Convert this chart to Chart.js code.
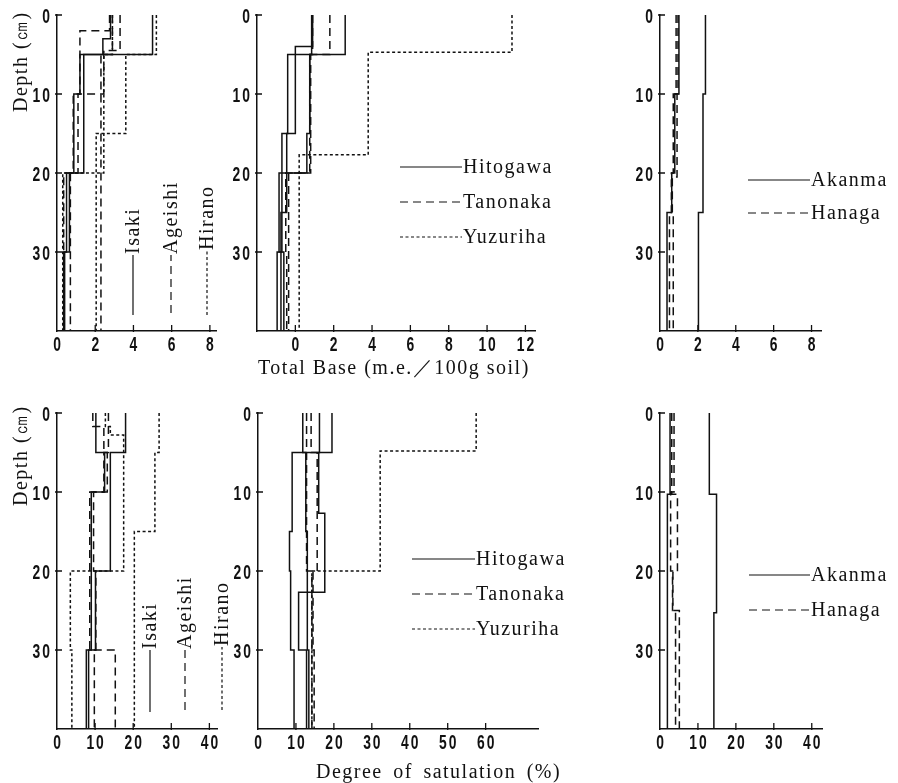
<!DOCTYPE html>
<html>
<head>
<meta charset="utf-8">
<script src="https://cdn.jsdelivr.net/npm/chart.js@4.4.0/dist/chart.umd.min.js"></script>
<style>
  body { margin: 0; background: #fff; width: 898px; height: 783px; position: relative; overflow: hidden; }
  canvas { position: absolute; }
  .title { position: absolute; font-family: 'Liberation Serif', 'DejaVu Serif', serif; font-size: 20px;
           letter-spacing: 1.5px; color: #111; white-space: nowrap; line-height: 24px; }
  .depth { transform-origin: left top; transform: rotate(-90deg); }
</style>
</head>
<body>
<canvas id="tbLeft"></canvas>
<canvas id="tbMid"></canvas>
<canvas id="tbRight"></canvas>
<canvas id="dsLeft"></canvas>
<canvas id="dsMid"></canvas>
<canvas id="dsRight"></canvas>
<div class="title depth" style="left:8px; top:112px;">Depth (㎝)</div>
<div class="title depth" style="left:8px; top:506px;">Depth (㎝)</div>
<div class="title" style="left:258px; top:355px;">Total Base (m.e.／100g soil)</div>
<div class="title" style="left:316px; top:759px; word-spacing:4px;">Degree of satulation (%)</div>
<script>
// tick labels
const depthTicks = [0, 10, 20, 30];
const tbSideTicks = [0, 2, 4, 6, 8];
const tbMidTicks = [0, 2, 4, 6, 8, 10, 12];
const dsSideTicks = [0, 10, 20, 30, 40];
const dsMidTicks = [0, 10, 20, 30, 40, 50, 60];

// Total Base (m.e./100g soil): horizon boundaries (cm) and value per horizon
const tbIsakiADepth = [0, 5, 20, 30, 40];
const tbIsakiA = [5.0, 1.4, 0.65, 0.4];
const tbIsakiBDepth = [0, 3, 5, 10, 20, 30, 40];
const tbIsakiB = [2.8, 2.4, 1.2, 0.88, 0.5, 0.35];
const tbAgeishiADepth = [0, 2, 10, 20, 40];
const tbAgeishiA = [2.75, 1.2, 0.85, 0.35];
const tbAgeishiBDepth = [0, 4.5, 10, 20, 40];
const tbAgeishiB = [3.3, 2.45, 1.1, 0.7];
const tbAgeishiCDepth = [0, 5, 40];
const tbAgeishiC = [2.9, 2.3];
const tbHiranoADepth = [0, 5, 15, 40];
const tbHiranoA = [5.2, 3.6, 2.05];
const tbHiranoBDepth = [0, 5, 20, 40];
const tbHiranoB = [2.9, 2.45, 0.3];

const tbHitogawaADepth = [0, 5, 15, 30, 40];
const tbHitogawaA = [2.6, -0.4, -0.7, -0.95];
const tbHitogawaBDepth = [0, 4, 15, 25, 40];
const tbHitogawaB = [0.9, 0.0, -0.45, -0.75];
const tbHitogawaCDepth = [0, 5, 15, 20, 30, 40];
const tbHitogawaC = [0.85, 0.75, 0.6, -0.85, -0.6];
const tbTanonakaADepth = [0, 5, 20, 30, 40];
const tbTanonakaA = [1.8, 0.75, -0.5, -0.45];
const tbTanonakaBDepth = [0, 5, 20, 40];
const tbTanonakaB = [0.9, 0.8, -0.35];
const tbYuzurihaDepth = [0, 4.7, 17.7, 40];
const tbYuzuriha = [11.3, 3.8, 0.2];

const tbAkanmaADepth = [0, 10, 25, 40];
const tbAkanmaA = [2.4, 2.27, 2.03];
const tbAkanmaBDepth = [0, 10, 20, 25, 40];
const tbAkanmaB = [1.0, 0.78, 0.62, 0.37];
const tbHanagaADepth = [0, 10, 20.5, 25, 40];
const tbHanagaA = [0.95, 0.9, 0.65, 0.7];
const tbHanagaBDepth = [0, 10, 20, 25, 40];
const tbHanagaB = [0.85, 0.7, 0.6, 0.5];

// Degree of saturation (%)
const dsIsakiADepth = [0, 5, 20, 30, 40];
const dsIsakiA = [18.0, 14.0, 10.1, 7.7];
const dsIsakiBDepth = [0, 5, 10, 30, 40];
const dsIsakiB = [10.2, 12.5, 9.0, 8.3];
const dsAgeishiADepth = [0, 1.7, 5, 10, 30, 40];
const dsAgeishiA = [9.4, 12.3, 13.2, 8.6, 15.3];
const dsAgeishiBDepth = [0, 5, 10, 20, 30, 40];
const dsAgeishiB = [13.5, 12.3, 9.6, 10.2, 9.8];
const dsHiranoADepth = [0, 5, 15, 40];
const dsHiranoA = [26.8, 25.7, 20.3];
const dsHiranoBDepth = [0, 1.7, 2.8, 20, 30, 40];
const dsHiranoB = [12.7, 14.0, 17.5, 3.5, 3.9];

const dsHitogawaADepth = [0, 5, 15, 20, 30, 40];
const dsHitogawaA = [19.5, 9.0, 8.3, 8.6, 9.5];
const dsHitogawaBDepth = [0, 5, 12.7, 22.7, 30, 40];
const dsHitogawaB = [16.2, 16.0, 17.6, 10.7, 12.8];
const dsHitogawaCDepth = [0, 5, 15, 30, 40];
const dsHitogawaC = [11.8, 12.6, 13.0, 13.4];
const dsTanonakaADepth = [0, 5, 20, 30, 40];
const dsTanonakaA = [14.0, 15.6, 14.5, 14.8];
const dsTanonakaBDepth = [0, 20, 40];
const dsTanonakaB = [12.8, 14.2];
const dsYuzurihaDepth = [0, 4.8, 20, 40];
const dsYuzuriha = [57.5, 32.2, 14.2];

const dsAkanmaADepth = [0, 10.3, 25.3, 40];
const dsAkanmaA = [13.0, 14.9, 14.2];
const dsAkanmaBDepth = [0, 10.3, 40];
const dsAkanmaB = [2.65, 1.95];
const dsHanagaADepth = [0, 10.3, 20.2, 25, 40];
const dsHanagaA = [3.1, 4.6, 3.4, 5.1];
const dsHanagaBDepth = [0, 10, 20, 25, 40];
const dsHanagaB = [3.7, 2.8, 3.3, 4.1];

const SOLID = [];
const DASHED = [8, 5];
const DOTTED = [3, 2.5];
const INK = '#111';
const tickFontCss = "bold 21px 'Liberation Sans', Arimo, 'DejaVu Sans', sans-serif";
const serif = "20px 'Liberation Serif', 'DejaVu Serif', serif";

// step profile: vertical run for each horizon, joined at the boundaries
function profile(depths, values, dash) {
  const pts = [];
  values.forEach((v, i) => {
    pts.push({ x: v, y: depths[i] });
    pts.push({ x: v, y: depths[i + 1] });
  });
  return {
    data: pts,
    showLine: true,
    borderColor: INK,
    borderWidth: 1.5,
    borderDash: dash,
    pointRadius: 0,
    fill: false,
    tension: 0
  };
}

// condensed bold tick labels and short tick marks pointing into the plot
const axisMarks = {
  id: 'axisMarks',
  afterDraw(chart) {
    const { ctx, chartArea, scales } = chart;
    ctx.save();
    ctx.strokeStyle = INK;
    ctx.lineWidth = 1.3;
    ctx.setLineDash([]);
    ctx.beginPath();
    scales.y.ticks.forEach(t => {
      const y = scales.y.getPixelForValue(t.value);
      ctx.moveTo(chartArea.left - 2, y);
      ctx.lineTo(chartArea.left + 5, y);
    });
    scales.x.ticks.forEach(t => {
      if (t.value === scales.x.min) return;
      const x = scales.x.getPixelForValue(t.value);
      ctx.moveTo(x, chartArea.bottom + 1);
      ctx.lineTo(x, chartArea.bottom - 6);
    });
    ctx.stroke();

    ctx.font = tickFontCss;
    ctx.letterSpacing = '3px';
    ctx.fillStyle = INK;
    ctx.textBaseline = 'alphabetic';
    scales.y.ticks.forEach(t => {
      const y = scales.y.getPixelForValue(t.value);
      ctx.save();
      ctx.translate(chartArea.left - 5, y + 7.5);
      ctx.scale(0.66, 1);
      ctx.textAlign = 'right';
      ctx.fillText(String(t.value), 0, 0);
      ctx.restore();
    });
    scales.x.ticks.forEach(t => {
      const x = scales.x.getPixelForValue(t.value);
      ctx.save();
      ctx.translate(x + 1, chartArea.bottom + 20);
      ctx.scale(0.66, 1);
      ctx.textAlign = 'center';
      ctx.fillText(String(t.value), 0, 0);
      ctx.restore();
    });
    ctx.restore();
  }
};

// line-sample legends, horizontal or rotated
const profileLegend = {
  id: 'profileLegend',
  afterDraw(chart, args, opts) {
    const ctx = chart.ctx;
    const offX = chart.canvas.offsetLeft, offY = chart.canvas.offsetTop;
    (opts.items || []).forEach(it => {
      ctx.save();
      ctx.translate(it.x - offX, it.y - offY);
      if (it.vertical) ctx.rotate(-Math.PI / 2);
      ctx.strokeStyle = INK;
      ctx.lineWidth = 1.2;
      ctx.setLineDash(it.dash);
      ctx.beginPath();
      ctx.moveTo(0, 0);
      ctx.lineTo(it.len, 0);
      ctx.stroke();
      ctx.font = serif;
      ctx.letterSpacing = '1.5px';
      ctx.fillStyle = INK;
      ctx.textBaseline = 'middle';
      ctx.fillText(it.label, it.len + 1, 1);
      ctx.restore();
    });
  }
};

function makePanel(id, box, xMin, xMax, xTicks, datasets, legendItems) {
  const canvas = document.getElementById(id);
  const padRight = box.padRight;
  const w = 50 + (box.right - box.axisX) + padRight;
  const h = 12 + (box.bottom - box.top) + 32;
  canvas.width = w;
  canvas.height = h;
  canvas.style.left = (box.axisX - 50) + 'px';
  canvas.style.top = (box.top - 12) + 'px';
  canvas.style.width = w + 'px';
  canvas.style.height = h + 'px';

  return new Chart(canvas.getContext('2d'), {
    type: 'scatter',
    data: { datasets },
    options: {
      responsive: false,
      animation: false,
      layout: { padding: { top: 12, right: padRight, left: 0, bottom: 0 } },
      plugins: {
        legend: { display: false },
        tooltip: { enabled: false },
        profileLegend: { items: legendItems }
      },
      scales: {
        x: {
          type: 'linear',
          min: xMin,
          max: xMax,
          afterBuildTicks: s => { s.ticks = xTicks.map(v => ({ value: v })); },
          afterFit: s => { s.height = 32; },
          grid: { display: false },
          border: { color: INK, width: 1.5 },
          ticks: { display: false }
        },
        y: {
          type: 'linear',
          reverse: true,
          min: 0,
          max: 40,
          afterBuildTicks: s => { s.ticks = depthTicks.map(v => ({ value: v })); },
          afterFit: s => { s.width = 50; },
          grid: { display: false },
          border: { color: INK, width: 1.5 },
          ticks: { display: false }
        }
      }
    },
    plugins: [axisMarks, profileLegend]
  });
}

makePanel('tbLeft', { axisX: 57, right: 216, top: 15, bottom: 331, padRight: 16 }, 0, 8.32, tbSideTicks, [
  profile(tbIsakiADepth, tbIsakiA, SOLID),
  profile(tbIsakiBDepth, tbIsakiB, SOLID),
  profile(tbAgeishiADepth, tbAgeishiA, DASHED),
  profile(tbAgeishiBDepth, tbAgeishiB, DASHED),
  profile(tbAgeishiCDepth, tbAgeishiC, DASHED),
  profile(tbHiranoADepth, tbHiranoA, DOTTED),
  profile(tbHiranoBDepth, tbHiranoB, DOTTED)
], [
  { label: 'Isaki', dash: SOLID, x: 133, y: 315, len: 60, vertical: true },
  { label: 'Ageishi', dash: DASHED, x: 171, y: 313, len: 58, vertical: true },
  { label: 'Hirano', dash: DOTTED, x: 207, y: 315, len: 64, vertical: true }
]);

makePanel('tbMid', { axisX: 257, right: 535, top: 15, bottom: 331, padRight: 20 }, -2, 12.5, tbMidTicks, [
  profile(tbHitogawaADepth, tbHitogawaA, SOLID),
  profile(tbHitogawaBDepth, tbHitogawaB, SOLID),
  profile(tbHitogawaCDepth, tbHitogawaC, SOLID),
  profile(tbTanonakaADepth, tbTanonakaA, DASHED),
  profile(tbTanonakaBDepth, tbTanonakaB, DASHED),
  profile(tbYuzurihaDepth, tbYuzuriha, DOTTED)
], [
  { label: 'Hitogawa', dash: SOLID, x: 400, y: 167, len: 62 },
  { label: 'Tanonaka', dash: DASHED, x: 400, y: 202, len: 62 },
  { label: 'Yuzuriha', dash: DOTTED, x: 400, y: 237, len: 62 }
]);

makePanel('tbRight', { axisX: 660, right: 821, top: 15, bottom: 331, padRight: 78 }, 0, 8.5, tbSideTicks, [
  profile(tbAkanmaADepth, tbAkanmaA, SOLID),
  profile(tbAkanmaBDepth, tbAkanmaB, SOLID),
  profile(tbHanagaADepth, tbHanagaA, DASHED),
  profile(tbHanagaBDepth, tbHanagaB, DASHED)
], [
  { label: 'Akanma', dash: SOLID, x: 748, y: 180, len: 62 },
  { label: 'Hanaga', dash: DASHED, x: 748, y: 213, len: 62 }
]);

makePanel('dsLeft', { axisX: 57, right: 217, top: 413, bottom: 729, padRight: 16 }, 0, 42, dsSideTicks, [
  profile(dsIsakiADepth, dsIsakiA, SOLID),
  profile(dsIsakiBDepth, dsIsakiB, SOLID),
  profile(dsAgeishiADepth, dsAgeishiA, DASHED),
  profile(dsAgeishiBDepth, dsAgeishiB, DASHED),
  profile(dsHiranoADepth, dsHiranoA, DOTTED),
  profile(dsHiranoBDepth, dsHiranoB, DOTTED)
], [
  { label: 'Isaki', dash: SOLID, x: 150, y: 712, len: 62, vertical: true },
  { label: 'Ageishi', dash: DASHED, x: 185, y: 710, len: 60, vertical: true },
  { label: 'Hirano', dash: DOTTED, x: 222, y: 710, len: 63, vertical: true }
]);

makePanel('dsMid', { axisX: 258, right: 538, top: 413, bottom: 729, padRight: 40 }, 0, 73.8, dsMidTicks, [
  profile(dsHitogawaADepth, dsHitogawaA, SOLID),
  profile(dsHitogawaBDepth, dsHitogawaB, SOLID),
  profile(dsHitogawaCDepth, dsHitogawaC, SOLID),
  profile(dsTanonakaADepth, dsTanonakaA, DASHED),
  profile(dsTanonakaBDepth, dsTanonakaB, DASHED),
  profile(dsYuzurihaDepth, dsYuzuriha, DOTTED)
], [
  { label: 'Hitogawa', dash: SOLID, x: 412, y: 559, len: 63 },
  { label: 'Tanonaka', dash: DASHED, x: 412, y: 594, len: 63 },
  { label: 'Yuzuriha', dash: DOTTED, x: 412, y: 629, len: 63 }
]);

makePanel('dsRight', { axisX: 660, right: 822, top: 413, bottom: 729, padRight: 76 }, 0, 42.7, dsSideTicks, [
  profile(dsAkanmaADepth, dsAkanmaA, SOLID),
  profile(dsAkanmaBDepth, dsAkanmaB, SOLID),
  profile(dsHanagaADepth, dsHanagaA, DASHED),
  profile(dsHanagaBDepth, dsHanagaB, DASHED)
], [
  { label: 'Akanma', dash: SOLID, x: 749, y: 575, len: 61 },
  { label: 'Hanaga', dash: DASHED, x: 749, y: 610, len: 61 }
]);
</script>
</body>
</html>
